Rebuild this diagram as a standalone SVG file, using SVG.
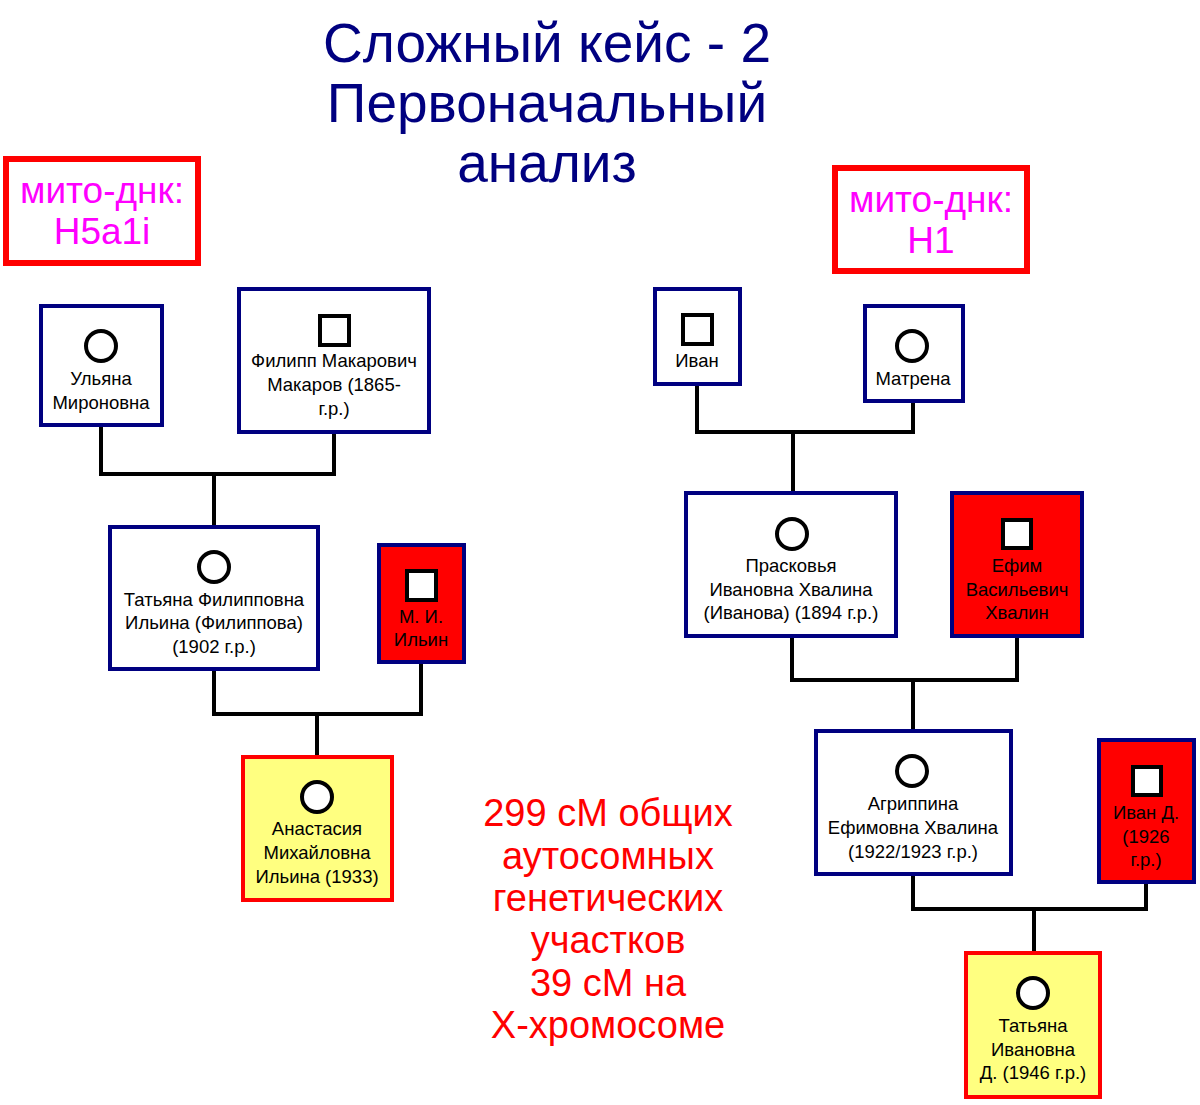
<svg xmlns="http://www.w3.org/2000/svg" width="1200" height="1105" viewBox="0 0 1200 1105">
<style>
.t{font-family:"Liberation Sans",Arial,sans-serif;text-anchor:middle}
.title{font-size:55px;fill:#000080}
.mito{font-size:37px;fill:#FF00FF}
.cm{font-size:38px;fill:#FF0000}
.n{font-size:18.5px;fill:#000}
.box{fill:#fff;stroke:#000080;stroke-width:4}
.red{fill:#FF0000;stroke:#000080;stroke-width:4}
.yel{fill:#FFFF80;stroke:#FF0000;stroke-width:4}
.mbox{fill:#fff;stroke:#FF0000;stroke-width:6}
.sym{fill:#fff;stroke:#000;stroke-width:4}
.ln{fill:none;stroke:#000;stroke-width:4}
</style>
<rect width="1200" height="1105" fill="#fff"/>
<g id="title" class="t title">
<text x="547" y="62">Сложный кейс - 2</text>
<text x="547" y="122">Первоначальный</text>
<text x="547" y="182">анализ</text>
</g>
<g id="mito-left">
<rect class="mbox" x="6" y="159" width="192" height="104"/>
<text class="t mito" x="102" y="203">мито-днк:</text>
<text class="t mito" x="102" y="244">H5a1i</text>
</g>
<g id="mito-right">
<rect class="mbox" x="835" y="168" width="192" height="103"/>
<text class="t mito" x="931" y="212">мито-днк:</text>
<text class="t mito" x="931" y="253">H1</text>
</g>
<g id="connectors">
<polyline class="ln" points="101,425 101,474 334,474 334,432"/>
<line class="ln" x1="214" y1="474" x2="214" y2="527"/>
<polyline class="ln" points="214,669 214,714 421,714 421,662"/>
<line class="ln" x1="317" y1="714" x2="317" y2="757"/>
<polyline class="ln" points="697,384 697,432 913,432 913,401"/>
<line class="ln" x1="793" y1="432" x2="793" y2="493"/>
<polyline class="ln" points="792,636 792,680 1017,680 1017,636"/>
<line class="ln" x1="913" y1="680" x2="913" y2="731"/>
<polyline class="ln" points="913,874 913,909 1146,909 1146,882"/>
<line class="ln" x1="1034" y1="909" x2="1034" y2="953"/>
</g>
<g id="ulyana">
<rect class="box" x="41" y="306" width="121" height="119"/>
<circle class="sym" cx="101" cy="346" r="15"/>
<text class="t n" x="101" y="385">Ульяна</text>
<text class="t n" x="101" y="409">Мироновна</text>
</g>
<g id="filipp">
<rect class="box" x="239" y="289" width="190" height="143"/>
<rect class="sym" x="320" y="316" width="29" height="29"/>
<text class="t n" x="334" y="367">Филипп Макарович</text>
<text class="t n" x="334" y="391">Макаров (1865-</text>
<text class="t n" x="334" y="415">г.р.)</text>
</g>
<g id="tatyana-f">
<rect class="box" x="110" y="527" width="208" height="142"/>
<circle class="sym" cx="214" cy="567" r="15"/>
<text class="t n" x="214" y="606">Татьяна Филипповна</text>
<text class="t n" x="214" y="629">Ильина (Филиппова)</text>
<text class="t n" x="214" y="653">(1902 г.р.)</text>
</g>
<g id="mi-ilyin">
<rect class="red" x="379" y="545" width="85" height="117"/>
<rect class="sym" x="407" y="571" width="29" height="29"/>
<text class="t n" x="421" y="623">М. И.</text>
<text class="t n" x="421" y="646">Ильин</text>
</g>
<g id="anastasia">
<rect class="yel" x="243" y="757" width="149" height="143"/>
<circle class="sym" cx="317" cy="797" r="15"/>
<text class="t n" x="317" y="835">Анастасия</text>
<text class="t n" x="317" y="859">Михайловна</text>
<text class="t n" x="317" y="883">Ильина (1933)</text>
</g>
<g id="ivan">
<rect class="box" x="655" y="289" width="85" height="95"/>
<rect class="sym" x="683" y="315" width="29" height="29"/>
<text class="t n" x="697" y="367">Иван</text>
</g>
<g id="matrena">
<rect class="box" x="865" y="306" width="98" height="95"/>
<circle class="sym" cx="912" cy="346" r="15"/>
<text class="t n" x="913" y="385">Матрена</text>
</g>
<g id="praskovya">
<rect class="box" x="686" y="493" width="210" height="143"/>
<circle class="sym" cx="792" cy="534" r="15"/>
<text class="t n" x="791" y="572">Прасковья</text>
<text class="t n" x="791" y="596">Ивановна Хвалина</text>
<text class="t n" x="791" y="619">(Иванова) (1894 г.р.)</text>
</g>
<g id="efim">
<rect class="red" x="952" y="493" width="130" height="143"/>
<rect class="sym" x="1003" y="520" width="28" height="28"/>
<text class="t n" x="1017" y="572">Ефим</text>
<text class="t n" x="1017" y="596">Васильевич</text>
<text class="t n" x="1017" y="619">Хвалин</text>
</g>
<g id="agrippina">
<rect class="box" x="816" y="731" width="195" height="143"/>
<circle class="sym" cx="912" cy="771" r="15"/>
<text class="t n" x="913" y="810">Агриппина</text>
<text class="t n" x="913" y="834">Ефимовна Хвалина</text>
<text class="t n" x="913" y="858">(1922/1923 г.р.)</text>
</g>
<g id="ivan-d">
<rect class="red" x="1099" y="740" width="95" height="142"/>
<rect class="sym" x="1133" y="767" width="28" height="28"/>
<text class="t n" x="1146" y="819">Иван Д.</text>
<text class="t n" x="1146" y="843">(1926</text>
<text class="t n" x="1146" y="866">г.р.)</text>
</g>
<g id="tatyana-i">
<rect class="yel" x="966" y="953" width="134" height="144"/>
<circle class="sym" cx="1033" cy="993" r="15"/>
<text class="t n" x="1033" y="1032">Татьяна</text>
<text class="t n" x="1033" y="1056">Ивановна</text>
<text class="t n" x="1033" y="1079">Д. (1946 г.р.)</text>
</g>
<g id="shared-cm" class="t cm">
<text x="608" y="826">299 сМ общих</text>
<text x="608" y="869">аутосомных</text>
<text x="608" y="911">генетических</text>
<text x="608" y="953">участков</text>
<text x="608" y="996">39 сМ на</text>
<text x="608" y="1038">Х-хромосоме</text>
</g>
</svg>
